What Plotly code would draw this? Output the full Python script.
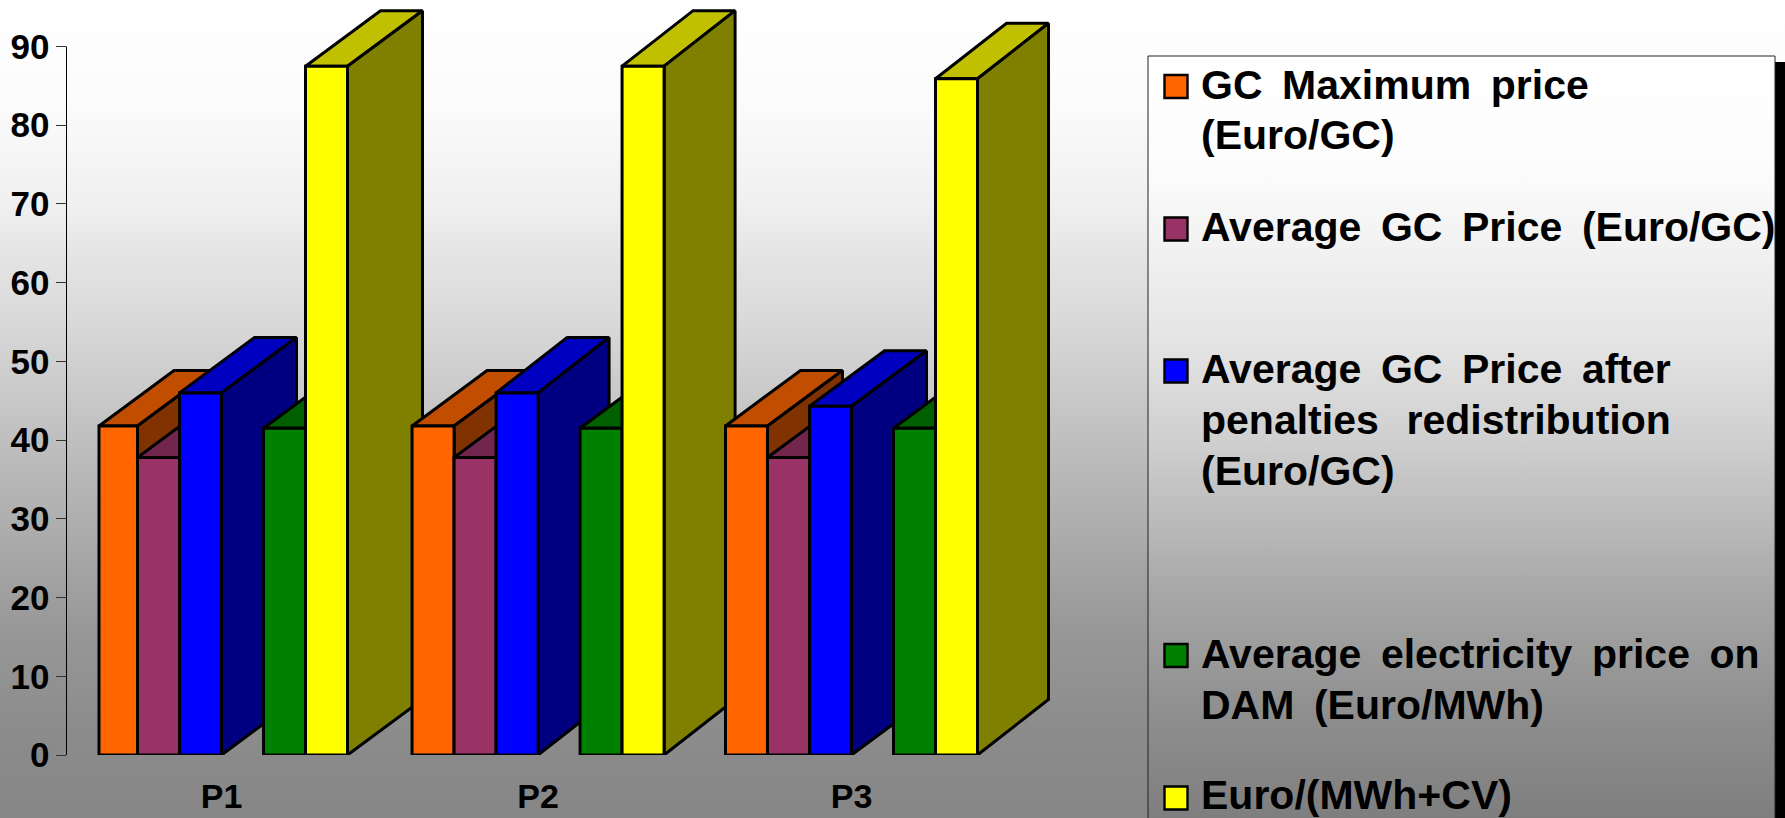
import plotly.graph_objects as go

# ---- data ----
categories = ["P1", "P2", "P3"]
gc_maximum = [41.8, 41.8, 41.8]
gc_average = [37.8, 37.8, 37.8]
gc_after_penalties = [46.0, 46.0, 44.3]
electricity_dam = [41.5, 41.5, 41.5]
euro_mwh_cv = [87.5, 87.5, 85.9]
y_ticks = [0, 10, 20, 30, 40, 50, 60, 70, 80, 90]

THIN = "\u2009"
legend_lines = [
    [f"GC{THIN} Maximum{THIN} price", "(Euro/GC)"],
    [f"Average{THIN} GC{THIN} Price{THIN} (Euro/GC)"],
    [f"Average{THIN} GC{THIN} Price{THIN} after",
     f"penalties{THIN}{THIN} redistribution", "(Euro/GC)"],
    [f"Average{THIN} electricity{THIN} price{THIN} on", f"DAM{THIN} (Euro/MWh)"],
    ["Euro/(MWh+CV)"],
]

# ---- page and plot geometry, in page pixels ----
PAGE_W, PAGE_H = 1785, 818
AXIS_LEFT, AXIS_RIGHT = 66.5, 1100
AXIS_TOP, AXIS_BOTTOM = 46.5, 755
FIRST_CENTRE = 221.5
CATEGORY_STEP = 315.0
BAR_PX = 42.0
DEPTH_PX = (75.0, 55.5)
SHALLOW_DEPTH_PX = 71.0

x_unit = 1 / CATEGORY_STEP
y_unit = 90 / (AXIS_BOTTOM - AXIS_TOP)
bar_width = BAR_PX * x_unit
depth_y = DEPTH_PX[1] * y_unit

# Category centres on the x axis; the middle group sits a touch right of even spacing
category_positions = [0, 1.005, 2]

# Slot of each series inside a category (slot 0 stays empty, left of the green bar)
series = [
    dict(values=gc_maximum, slot=-3, front="#FF6600", top="#C04D00", side="#803300"),
    dict(values=gc_average, slot=-2, front="#993366", top="#73264D", side="#4D1A33"),
    dict(values=gc_after_penalties, slot=-1, front="#0000FF", top="#0000C0", side="#000080"),
    dict(values=electricity_dam, slot=1, front="#008000", top="#006000", side="#004000"),
    dict(values=euro_mwh_cv, slot=2, front="#FFFF00", top="#C0C000", side="#808000"),
]
shallow_bars = {(1, 2), (1, 4), (2, 4)}  # (category, series) drawn with less depth

EDGE = dict(color="black", width=3)
FONT = "Liberation Sans"

fig = go.Figure()


def page_y(py):
    return PAGE_H - py


# Slide backdrop and legend panel live on a full-page pixel subplot underneath
fig.add_trace(go.Scatter(
    x=[0, PAGE_W, PAGE_W, 0, 0],
    y=[page_y(0), page_y(0), page_y(PAGE_H), page_y(PAGE_H), page_y(0)],
    mode="none", fill="toself", xaxis="x", yaxis="y",
    fillgradient=dict(type="vertical", colorscale=[
        [0.0, "#868686"], [0.11, "#8C8C8C"], [0.235, "#989898"], [0.36, "#AEAEAE"],
        [0.49, "#C4C4C4"], [0.62, "#DBDBDB"], [0.68, "#E3E3E3"], [0.745, "#EFEFEF"],
        [0.87, "#FBFBFB"], [1.0, "#FFFFFF"],
    ]),
))
fig.add_trace(go.Scatter(
    x=[1775, PAGE_W, PAGE_W, 1775, 1775],
    y=[page_y(62), page_y(62), page_y(PAGE_H), page_y(PAGE_H), page_y(62)],
    mode="none", fill="toself", fillcolor="black", xaxis="x", yaxis="y",
))
fig.add_trace(go.Scatter(
    x=[1148, 1775, 1775, 1148, 1148],
    y=[page_y(56), page_y(56), page_y(PAGE_H + 2), page_y(PAGE_H + 2), page_y(56)],
    mode="lines", line=dict(color="#222222", width=1), fill="toself", xaxis="x", yaxis="y",
    fillgradient=dict(type="vertical", colorscale=[
        [0.0, "#7E7E7E"], [0.15, "#909090"], [0.29, "#A6A6A6"], [0.5, "#D0D0D0"],
        [0.64, "#E6E6E6"], [0.85, "#FCFCFC"], [1.0, "#FFFFFF"],
    ]),
))


def face(xs, ys, colour):
    fig.add_trace(go.Scatter(
        x=xs, y=ys, mode="lines", fill="toself", fillcolor=colour,
        line=EDGE, xaxis="x2", yaxis="y2",
    ))


# Extruded bars: painted left to right so nearer neighbours overlap earlier ones
for c, centre in enumerate(category_positions):
    for i, s in enumerate(series):
        v = s["values"][c]
        x0 = centre + s["slot"] * bar_width
        x1 = x0 + bar_width
        depth_x = (SHALLOW_DEPTH_PX if (c, i) in shallow_bars else DEPTH_PX[0]) * x_unit
        if c == 0 and i == 0:
            x0 += 3.5 * x_unit  # the first bar of the chart sits slightly narrower
        face([x0, x1, x1 + depth_x, x0 + depth_x, x0],
             [v, v, v + depth_y, v + depth_y, v], s["top"])
        face([x1, x1 + depth_x, x1 + depth_x, x1, x1],
             [0, depth_y, v + depth_y, v, 0], s["side"])
        face([x0, x1, x1, x0, x0], [0, 0, v, v, 0], s["front"])

# Legend keys and labels
key_tops = [74, 216.5, 358.5, 643, 785.5]
line_baselines = [[98, 148], [240], [382, 433, 484], [667, 718], [808]]
LEGEND_SIZE = 41
annotations = []
for s, top, lines, bases in zip(series, key_tops, legend_lines, line_baselines):
    fig.add_trace(go.Scatter(
        x=[1176], y=[page_y(top + 12.5)], mode="markers", xaxis="x", yaxis="y",
        marker=dict(symbol="square", size=23, color=s["front"], line=dict(color="black", width=2.4)),
    ))
    for text, base in zip(lines, bases):
        annotations.append(dict(
            xref="paper", yref="paper", x=1199 / PAGE_W, y=1 - base / PAGE_H,
            text=text, showarrow=False, xanchor="left", yanchor="bottom", yshift=-12,
            font=dict(family=FONT, size=LEGEND_SIZE, color="black", weight="bold"),
        ))

hidden = dict(visible=False, fixedrange=True)
fig.update_layout(
    width=PAGE_W, height=PAGE_H,
    margin=dict(l=0, r=0, t=0, b=0, autoexpand=False),
    showlegend=False, hovermode=False,
    paper_bgcolor="white", plot_bgcolor="rgba(0,0,0,0)",
    annotations=annotations,
    # The value axis stays visually stopped at 90 while its range leaves room
    # for the extruded tops of the tallest bars.
    shapes=[dict(type="line", xref="paper", yref="y2", x0=AXIS_LEFT / PAGE_W, x1=AXIS_LEFT / PAGE_W,
                 y0=y_ticks[0], y1=y_ticks[-1], line=dict(color="black", width=1))],
    xaxis=dict(domain=[0, 1], range=[0, PAGE_W], **hidden),
    yaxis=dict(domain=[0, 1], range=[0, PAGE_H], **hidden),
    xaxis2=dict(
        domain=[AXIS_LEFT / PAGE_W, AXIS_RIGHT / PAGE_W],
        range=[(AXIS_LEFT - FIRST_CENTRE) * x_unit, (AXIS_RIGHT - FIRST_CENTRE) * x_unit],
        anchor="y2", tickmode="array", tickvals=category_positions, ticktext=categories,
        showgrid=False, zeroline=False, showline=False, ticks="", ticklabelstandoff=18,
        tickfont=dict(family=FONT, size=34, color="black", weight="bold"),
    ),
    yaxis2=dict(
        domain=[1 - AXIS_BOTTOM / PAGE_H, 1],
        range=[0, AXIS_BOTTOM * y_unit], anchor="x2", tickmode="array", tickvals=y_ticks,
        showgrid=False, zeroline=False, showline=False,
        ticks="outside", ticklen=10, tickwidth=1, tickcolor="#333333", ticklabelstandoff=-1,
        tickfont=dict(family=FONT, size=35, color="black", weight="bold"),
    ),
)

fig.write_html("out.html", config=dict(displayModeBar=False))
